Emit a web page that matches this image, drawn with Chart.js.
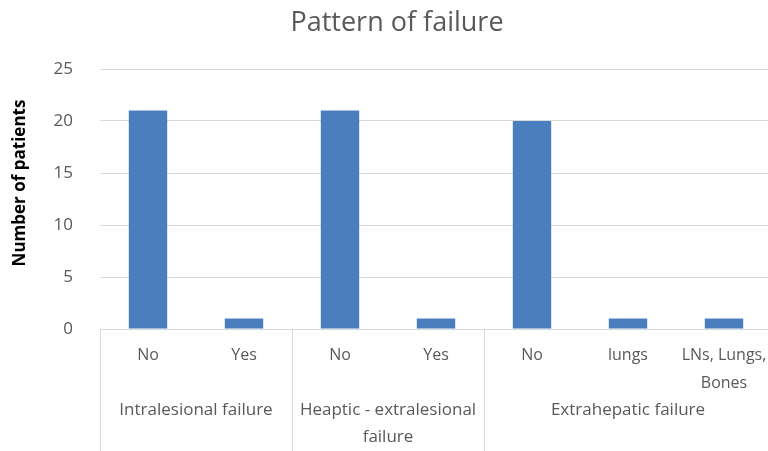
<!DOCTYPE html>
<html>
<head>
<meta charset="utf-8">
<script src="https://cdn.jsdelivr.net/npm/chart.js@4"></script>
<style>
  html, body { margin: 0; padding: 0; background: #fff; overflow: hidden; }
  /* the original chart is wider than the picture and cut off on the right */
  #wrap { width: 794px; height: 451px; }
</style>
</head>
<body>
<div id="wrap"><canvas id="chart"></canvas></div>
<script>
// data
const categories = ['No', 'Yes', 'No', 'Yes', 'No', 'lungs', ['LNs, Lungs,', 'Bones']];
const patients = [21, 1, 21, 1, 20, 1, 1];
const groups = [
    { label: ['Intralesional failure'], from: 0, to: 1 },
    { label: ['Heaptic - extralesional', 'failure'], from: 2, to: 3 },
    { label: ['Extrahepatic failure'], from: 4, to: 6 }
];
const yTicks = [0, 5, 10, 15, 20, 25];
const chartTitle = 'Pattern of failure';
const yTitle = 'Number of patients';

const textGrey = '#595959';
const lineGrey = '#d9d9d9';
const fontName = "'Open Sans', sans-serif";

// title centred on the full (uncropped) chart, group labels + separators
// under the category axis, and the y title
const extras = {
    id: 'extras',
    afterDraw(chart) {
        const ctx = chart.ctx;
        const x = chart.scales.x;
        const area = chart.chartArea;
        const bottom = chart.height;
        const half = (x.getPixelForValue(1) - x.getPixelForValue(0)) / 2;

        ctx.save();
        ctx.textAlign = 'center';
        ctx.textBaseline = 'middle';

        ctx.fillStyle = textGrey;
        ctx.font = '27px ' + fontName;
        ctx.fillText(chartTitle, chart.width / 2, 23);

        ctx.strokeStyle = lineGrey;
        ctx.lineWidth = 1;
        ctx.font = '17px ' + fontName;
        groups.forEach(g => {
            let left = x.getPixelForValue(g.from) - half;
            let right = x.getPixelForValue(g.to) + half;
            let sx = Math.round(left) + 0.5;
            ctx.beginPath();
            ctx.moveTo(sx, area.bottom);
            ctx.lineTo(sx, bottom);
            ctx.stroke();
            let cx = (left + right) / 2;
            g.label.forEach((t, k) => ctx.fillText(t, cx, area.bottom + 81 + k * 27));
        });

        // y axis title, sits a bit above the plot centre like the original
        ctx.fillStyle = '#000';
        ctx.font = 'bold 17px ' + fontName;
        ctx.translate(20, (area.top + area.bottom) / 2 - 16);
        ctx.rotate(-Math.PI / 2);
        ctx.fillText(yTitle, 0, 0);
        ctx.restore();
    }
};

new Chart(document.getElementById('chart'), {
    type: 'bar',
    data: {
        labels: categories,
        datasets: [{
            label: yTitle,
            data: patients,
            backgroundColor: '#4a7ebf',
            barPercentage: 0.4,
            categoryPercentage: 1
        }]
    },
    options: {
        responsive: true,
        maintainAspectRatio: false,
        animation: false,
        layout: { padding: { top: 69, right: 22 } },
        plugins: {
            legend: { display: false },
            tooltip: { enabled: false },
            title: { display: false }
        },
        scales: {
            x: {
                grid: { display: false },
                border: { color: lineGrey },
                ticks: {
                    color: textGrey,
                    font: { family: fontName, size: 16, lineHeight: 1.75 },
                    padding: 4,
                    maxRotation: 0,
                    autoSkip: false
                },
                afterFit: s => { s.height = 122; }
            },
            y: {
                min: 0,
                max: 25,
                afterBuildTicks: s => { s.ticks = yTicks.map(v => ({ value: v })); },
                grid: { color: lineGrey, drawTicks: false },
                border: { display: false },
                ticks: {
                    color: textGrey,
                    font: { family: fontName, size: 17 },
                    padding: 27
                },
                afterFit: s => { s.width = 100; }
            }
        }
    },
    plugins: [extras]
});
</script>
</body>
</html>
